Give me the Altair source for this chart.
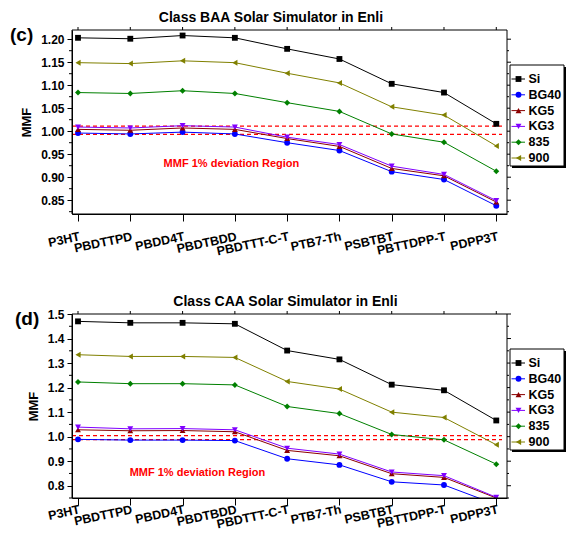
import altair as alt
import pandas as pd

cats = ["P3HT", "PBDTTPD", "PBDD4T", "PBDTBDD", "PBDTTT-C-T", "PTB7-Th", "PSBTBT", "PBTTDPP-T", "PDPP3T"]
series = ["Si", "BG40", "KG5", "KG3", "835", "900"]
colors = ["#000000", "#0000ff", "#8b0000", "#8000ff", "#008000", "#808000"]
shapes = ["square", "circle", "triangle-up", "triangle-down", "diamond", "triangle-left"]
sizes = [34, 36, 44, 44, 44, 44]

# Class BAA (panel c)
baa_si = [1.203, 1.201, 1.208, 1.203, 1.179, 1.157, 1.103, 1.084, 1.016]
baa_bg40 = [0.996, 0.994, 0.998, 0.994, 0.975, 0.958, 0.912, 0.895, 0.838]
baa_kg5 = [1.004, 1.002, 1.007, 1.004, 0.984, 0.967, 0.919, 0.903, 0.846]
baa_kg3 = [1.009, 1.007, 1.012, 1.009, 0.987, 0.971, 0.924, 0.906, 0.849]
baa_835 = [1.084, 1.082, 1.088, 1.082, 1.062, 1.043, 0.994, 0.976, 0.913]
baa_900 = [1.149, 1.147, 1.153, 1.149, 1.126, 1.105, 1.053, 1.035, 0.968]

# Class CAA (panel d)
caa_si = [1.470, 1.464, 1.464, 1.460, 1.351, 1.315, 1.212, 1.189, 1.066]
caa_bg40 = [0.989, 0.986, 0.986, 0.984, 0.910, 0.885, 0.816, 0.803, 0.723]
caa_kg5 = [1.028, 1.024, 1.025, 1.020, 0.944, 0.922, 0.849, 0.834, 0.750]
caa_kg3 = [1.039, 1.032, 1.033, 1.028, 0.953, 0.929, 0.856, 0.841, 0.753]
caa_835 = [1.223, 1.216, 1.216, 1.211, 1.123, 1.094, 1.009, 0.987, 0.888]
caa_900 = [1.334, 1.327, 1.327, 1.323, 1.225, 1.194, 1.100, 1.078, 0.967]

baa_ticks = [0.85, 0.90, 0.95, 1.00, 1.05, 1.10, 1.15, 1.20]
baa_minor = [0.825, 0.875, 0.925, 0.975, 1.025, 1.075, 1.125, 1.175]
caa_ticks = [0.8, 0.9, 1.0, 1.1, 1.2, 1.3, 1.4, 1.5]
caa_minor = [0.75, 0.85, 0.95, 1.05, 1.15, 1.25, 1.35, 1.45]

baa_band = [0.993, 1.011]
caa_band = [0.988, 1.004]

FONT = "Liberation Sans"
W = 435          # plot width
PH = 184         # height of each panel
GAP = 100        # gap between the two panels
TOTAL_H = 2 * PH + GAP
XDOM = [-0.115, 8.205]
label_expr = "[" + ",".join("'" + c + "'" for c in cats) + "][datum.value]"


def make_df(vals):
    rows = []
    for s, arr in zip(series, vals):
        for i, v in enumerate(arr):
            rows.append({"i": i, "cat": cats[i], "series": s, "v": v})
    return pd.DataFrame(rows)


xscale = alt.Scale(domain=XDOM, nice=False, zero=False)
color_enc = alt.Color("series:N", scale=alt.Scale(domain=series, range=colors), legend=None)
shape_enc = alt.Shape("series:N", scale=alt.Scale(domain=series, range=shapes), legend=None)
size_enc = alt.Size("series:N", scale=alt.Scale(domain=series, range=sizes), legend=None)


def panel_layers(vals, ydom, y0, yticks, yminor, yfmt, band, title, title_x, tag, tag_x,
                 ann_x, ann_y, lpad, xoffset, mask):
    yrange = [y0 + PH, y0]

    def Y(field, axis=None, title=None):
        if axis is None:
            return alt.Y(field + ":Q", scale=alt.Scale(domain=ydom, range=yrange, nice=False, zero=False),
                         axis=None)
        return alt.Y(field + ":Q", scale=alt.Scale(domain=ydom, range=yrange, nice=False, zero=False),
                     axis=axis, title=title)

    def X(field):
        return alt.X(field + ":Q", scale=xscale, axis=None)

    df = make_df(vals)
    base = alt.Chart(df)
    x_main = alt.X("i:Q", scale=xscale, title=None,
                   axis=alt.Axis(orient="bottom", offset=xoffset, values=list(range(9)), labelExpr=label_expr,
                                 labelAngle=348, labelAlign="right", labelBaseline="top", labelFontSize=12.5,
                                 labelPadding=lpad, tickSize=7, labelFlush=False, labelOverlap=False,
                                 grid=False, zindex=1))
    y_axis = alt.Axis(orient="left", values=yticks, format=yfmt, titleFontSize=13, labelFontSize=12,
                      tickSize=5, labelPadding=3, titlePadding=7, grid=False, labelOverlap=False, zindex=1)
    lines = base.mark_line(strokeWidth=1).encode(x=x_main, y=Y("v", y_axis, "MMF"), color=color_enc)
    pts = base.mark_point(filled=True, opacity=1).encode(
        x=X("i"), y=Y("v"), color=color_enc, shape=shape_enc, size=size_enc)

    red = alt.Chart(pd.DataFrame({"v": band})).mark_rule(
        stroke="#ff0000", strokeDash=[4, 3], strokeWidth=1.3).encode(
        y=Y("v"), x=alt.value(0), x2=alt.value(W - 5))

    minor_df = pd.DataFrame({"v": yminor})
    major_df = pd.DataFrame({"v": yticks})
    left_minor = alt.Chart(minor_df).mark_rule(color="black").encode(
        y=Y("v"), x=alt.value(-3), x2=alt.value(0))
    right_minor = alt.Chart(minor_df).mark_rule(color="black").encode(
        y=Y("v"), x=alt.value(W), x2=alt.value(W + 2))
    right_major = alt.Chart(major_df).mark_rule(color="black").encode(
        y=Y("v"), x=alt.value(W), x2=alt.value(W + 4))
    top_ticks = alt.Chart(pd.DataFrame({"i": list(range(9))})).mark_rule(color="black").encode(
        x=X("i"), y=alt.value(y0), y2=alt.value(y0 - 3))

    one = pd.DataFrame({"a": [0]})
    layers = [red, lines, pts]
    if mask:
        layers.append(alt.Chart(one).mark_rect(fill="white").encode(
            x=alt.value(-0.5), x2=alt.value(W + 0.5), y=alt.value(y0 + PH + 0.5), y2=alt.value(y0 + PH + 14)))
    frame = alt.Chart(one).mark_rect(fill="transparent", stroke="black", strokeWidth=1).encode(
        x=alt.value(0), x2=alt.value(W), y=alt.value(y0), y2=alt.value(y0 + PH))

    ann = alt.Chart(pd.DataFrame({"ax": [ann_x], "ay": [ann_y], "t": ["MMF 1% deviation Region"]})).mark_text(
        font=FONT, fontWeight="bold", fontSize=11, color="#ff0000", align="center", baseline="middle").encode(
        x=X("ax"), y=Y("ay"), text="t:N")
    ttl = alt.Chart(pd.DataFrame({"t": [title]})).mark_text(
        font=FONT, fontWeight="bold", fontSize=14, color="black", align="center", baseline="middle").encode(
        x=alt.value(title_x), y=alt.value(y0 - 12.5), text="t:N")
    tg = alt.Chart(pd.DataFrame({"t": [tag]})).mark_text(
        font=FONT, fontWeight="bold", fontSize=19, color="black", align="left", baseline="middle").encode(
        x=alt.value(tag_x), y=alt.value(y0 + 5), text="t:N")

    # legend
    leg_df = pd.DataFrame({"series": series})
    ly = alt.Y("series:N", sort=series,
               scale=alt.Scale(type="point", domain=series, range=[y0 + 49, y0 + 128], padding=0), axis=None)
    shadow = alt.Chart(one).mark_rect(color="black").encode(
        x=alt.value(440), x2=alt.value(494), y=alt.value(y0 + 37), y2=alt.value(y0 + 138))
    box = alt.Chart(one).mark_rect(fill="white", stroke="black", strokeWidth=1).encode(
        x=alt.value(438), x2=alt.value(492), y=alt.value(y0 + 35), y2=alt.value(y0 + 136))
    lg_rule = alt.Chart(leg_df).mark_rule(strokeWidth=1).encode(
        x=alt.value(439.5), x2=alt.value(453), y=ly, color=color_enc)
    lg_pts = alt.Chart(leg_df).mark_point(filled=True, opacity=1).encode(
        x=alt.value(446.5), y=ly, color=color_enc, shape=shape_enc, size=size_enc)
    lg_txt = alt.Chart(leg_df).mark_text(
        font=FONT, fontWeight="bold", fontSize=12.5, color="black", align="left", baseline="middle").encode(
        x=alt.value(456.5), y=ly, text="series:N")

    layers += [frame, left_minor, right_minor, right_major, top_ticks, ann, ttl, tg,
               shadow, box, lg_rule, lg_pts, lg_txt]
    return layers


top_layers = panel_layers([baa_si, baa_bg40, baa_kg5, baa_kg3, baa_835, baa_900], [0.82, 1.22], 0,
                          baa_ticks, baa_minor, ".2f", baa_band, "Class BAA Solar Simulator in Enli", 199,
                          "(c)", -62, 2.935, 0.928, 9, -(PH + GAP), False)
bottom_layers = panel_layers([caa_si, caa_bg40, caa_kg5, caa_kg3, caa_835, caa_900], [0.75, 1.5], PH + GAP,
                             caa_ticks, caa_minor, ".1f", caa_band, "Class CAA Solar Simulator in Enli", 213.5,
                             "(d)", -57, 2.285, 0.851, -2, 0, True)

chart = alt.layer(*(top_layers + bottom_layers)).resolve_scale(y="independent").resolve_axis(
    x="independent", y="independent"
).properties(
    width=W, height=TOTAL_H,
    autosize=alt.AutoSizeParams(type="none"),
    padding={"left": 64, "top": 22, "right": 60, "bottom": 35}
).configure_view(stroke="transparent").configure_axis(
    labelFont=FONT, titleFont=FONT, labelFontWeight="bold", titleFontWeight="bold",
    labelColor="black", titleColor="black", domainColor="black", tickColor="black",
    domainWidth=1, tickWidth=1
)

chart.save("out.html", embed_options={"renderer": "svg", "actions": False})
